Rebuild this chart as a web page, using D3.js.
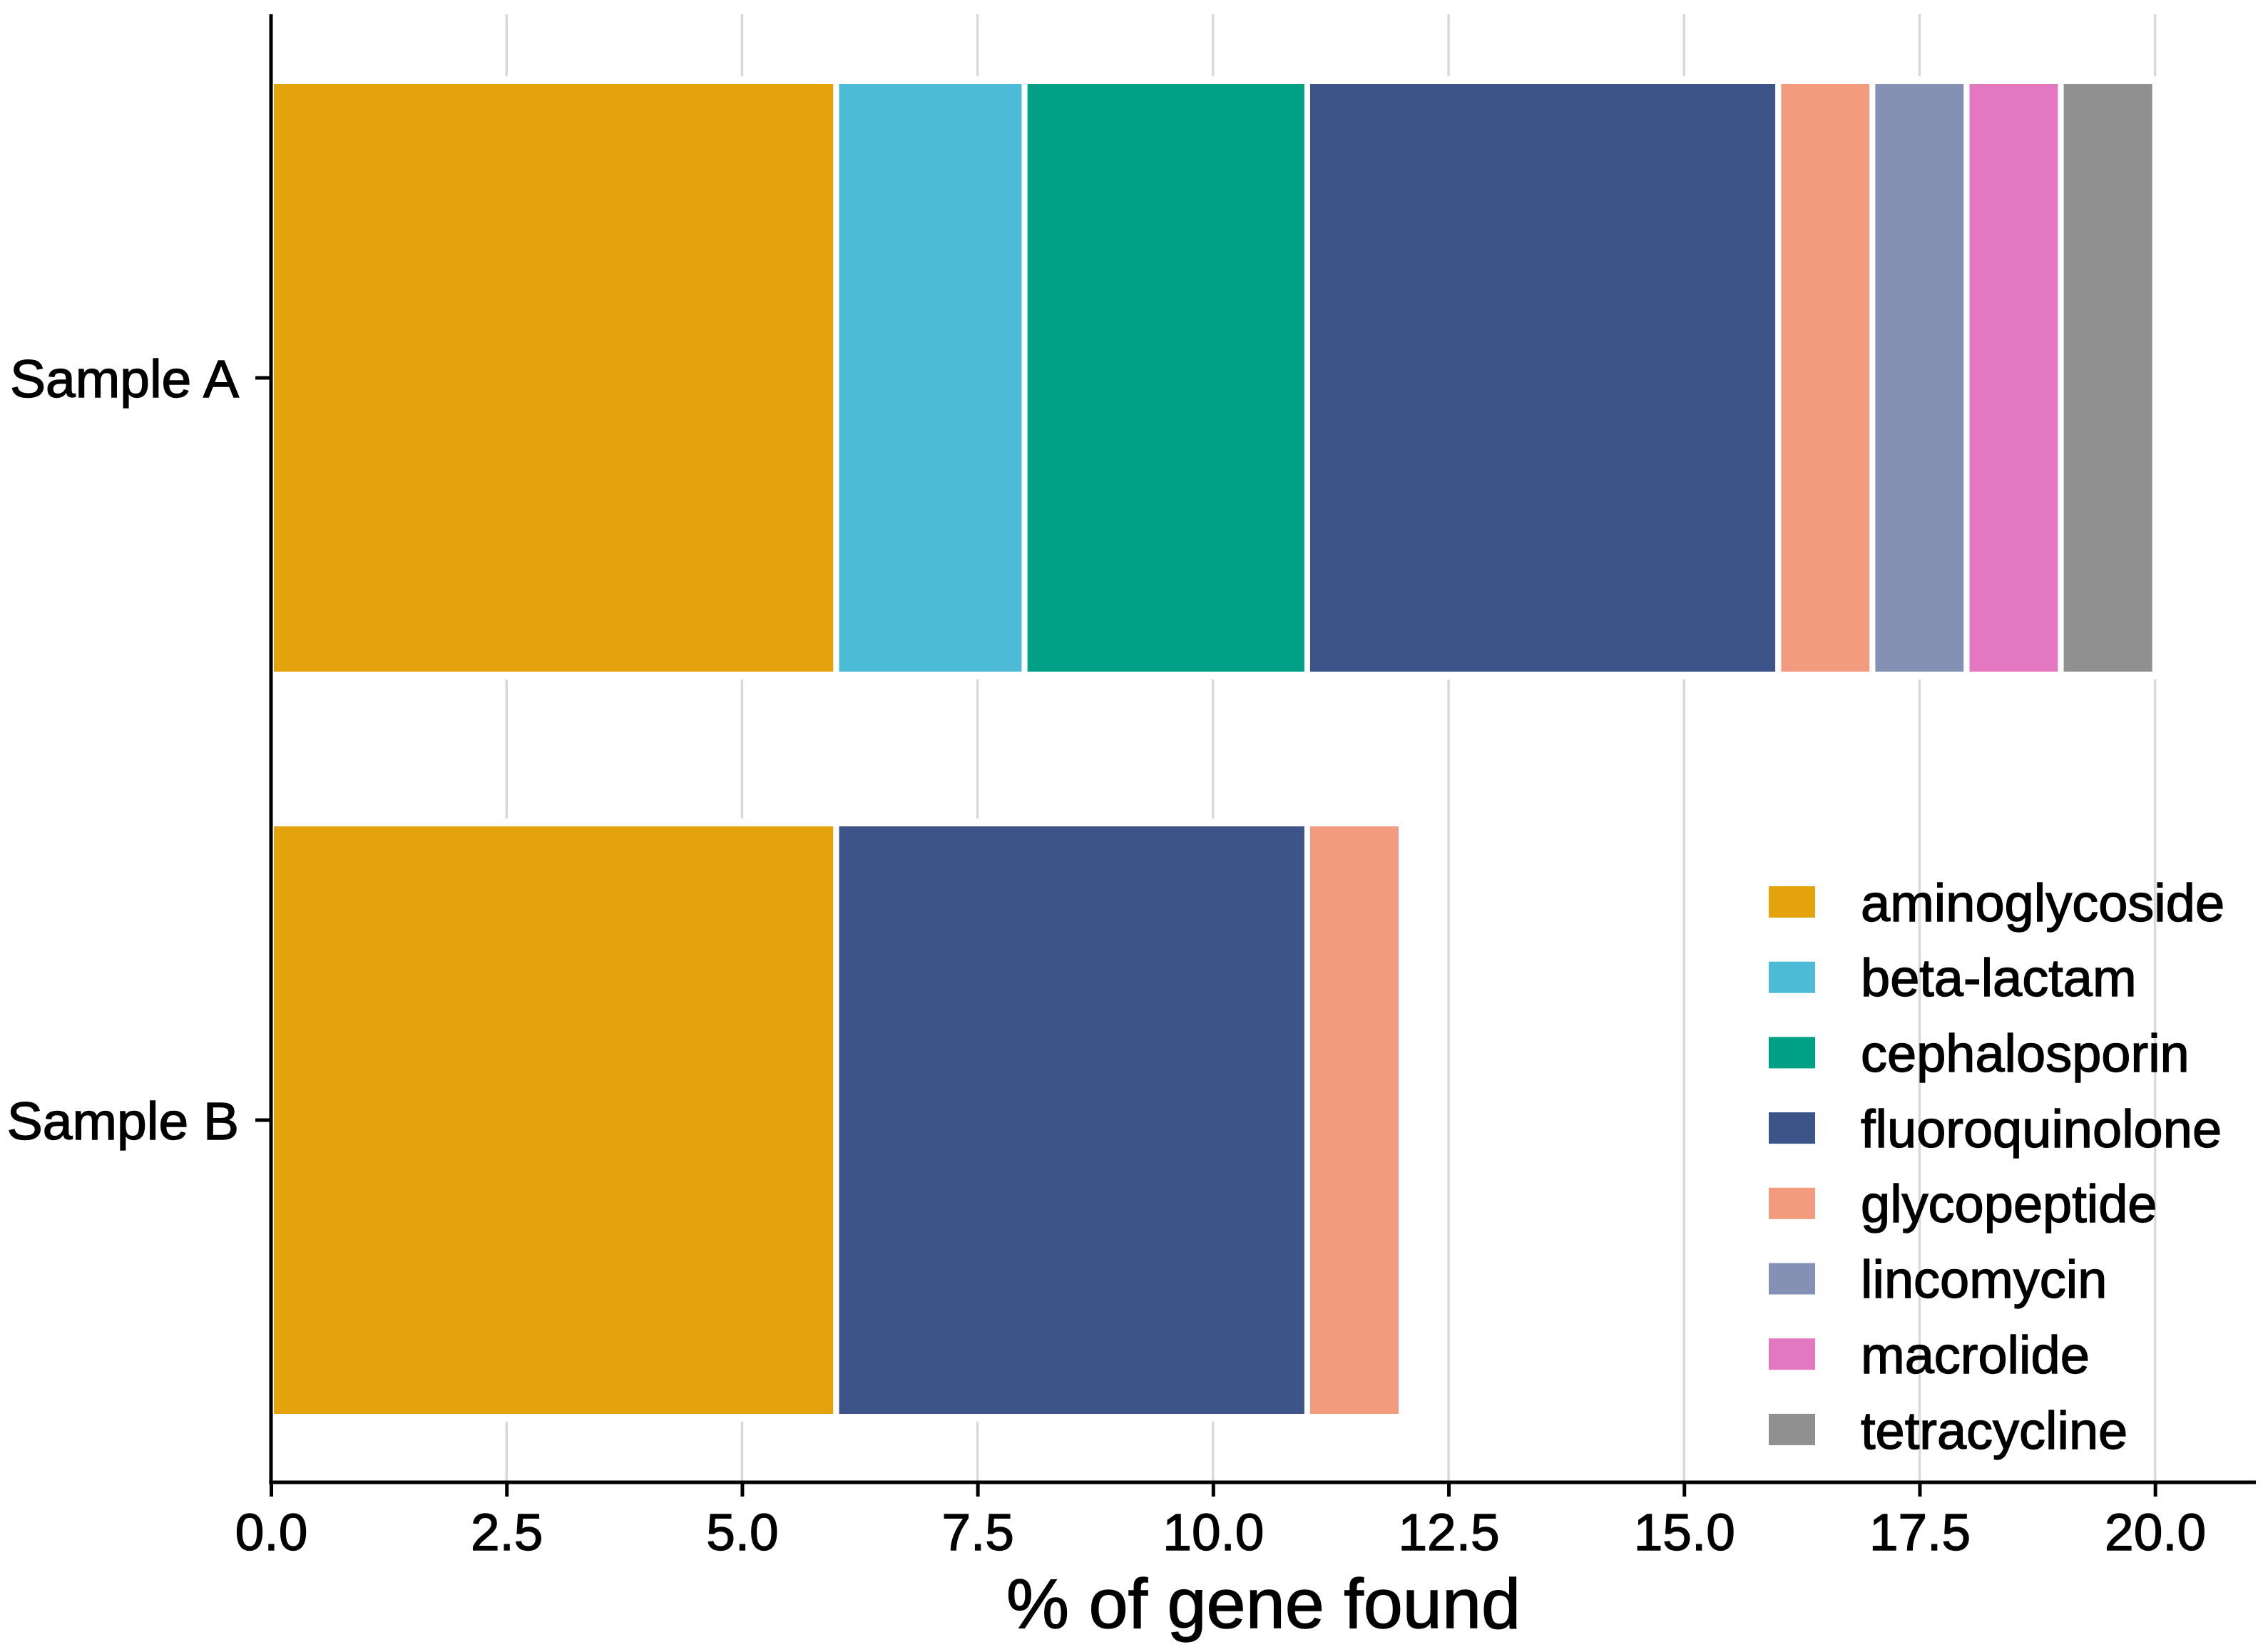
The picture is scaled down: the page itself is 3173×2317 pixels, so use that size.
<!DOCTYPE html>
<html>
<head>
<meta charset="utf-8">
<script src="https://cdn.jsdelivr.net/npm/d3@7"></script>
<style>
  html, body { margin: 0; padding: 0; background: #fff; }
  svg { display: block; }
  text { font-family: "Liberation Sans", Arial, Helvetica, sans-serif; fill: #000; stroke: #000; stroke-width: 1.4px; }
</style>
</head>
<body>
<svg id="chart" width="3173" height="2317"></svg>
<script>
// ---- data ----
const samples = ["Sample A", "Sample B"];
const classes = ["aminoglycoside", "beta-lactam", "cephalosporin", "fluoroquinolone",
                 "glycopeptide", "lincomycin", "macrolide", "tetracycline"];
const colors = ["#E4A20C", "#4DBAD6", "#00A087", "#3C5488",
                "#F39B7F", "#8491B4", "#E377C2", "#909090"];
const sampleA = [6, 2, 3, 5, 1, 1, 1, 1];
const sampleB = [6, 0, 0, 5, 1, 0, 0, 0];
const xTicks = [0, 2.5, 5, 7.5, 10, 12.5, 15, 17.5, 20];
const xTickLabels = ["0.0", "2.5", "5.0", "7.5", "10.0", "12.5", "15.0", "17.5", "20.0"];
const xTitle = "% of gene found";

// ---- layout ----
const mLeft = 380, mRight = 3163, mTop = 20, mBottom = 2079;

const svg = d3.select("#chart");

const x = d3.scaleLinear().domain([0, 21.07]).range([mLeft, mRight]);
const y = d3.scaleBand().domain(samples).range([114, 1987]).paddingInner(0.2008).paddingOuter(0);
const color = d3.scaleOrdinal().domain(classes).range(colors);

// gridlines
svg.append("g").selectAll("line")
  .data(xTicks.filter(d => d > 0))
  .join("line")
  .attr("x1", d => x(d)).attr("x2", d => x(d))
  .attr("y1", mTop).attr("y2", mBottom)
  .attr("stroke", "#D9D9D9").attr("stroke-width", 3.5);

// stacked data
const rows = samples.map((s, i) => {
  const vals = i === 0 ? sampleA : sampleB;
  const obj = { sample: s };
  classes.forEach((c, j) => obj[c] = vals[j]);
  return obj;
});
const stack = d3.stack().keys(classes)(rows);

// halos (white gap between bars and gridlines)
svg.append("g").selectAll("rect")
  .data(rows)
  .join("rect")
  .attr("x", x(0))
  .attr("y", d => y(d.sample) - 7)
  .attr("width", d => x(d3.sum(classes, c => d[c])) - x(0) + 4)
  .attr("height", y.bandwidth() + 14)
  .attr("fill", "#fff");

// bars
const segs = [];
stack.forEach(layer => {
  layer.forEach(p => {
    if (p[1] - p[0] > 0) segs.push({ key: layer.key, sample: p.data.sample, x0: p[0], x1: p[1] });
  });
});
svg.append("g").selectAll("rect")
  .data(segs)
  .join("rect")
  .attr("x", d => x(d.x0))
  .attr("y", d => y(d.sample))
  .attr("width", d => x(d.x1) - x(d.x0))
  .attr("height", y.bandwidth())
  .attr("fill", d => color(d.key))
  .attr("stroke", "#fff")
  .attr("stroke-width", 8);

// x axis
const xAxis = svg.append("g").attr("transform", `translate(0,${mBottom})`)
  .call(d3.axisBottom(x).tickValues(xTicks).tickFormat((d, i) => xTickLabels[i]).tickSize(20).tickSizeOuter(0));
xAxis.select(".domain").remove();
xAxis.selectAll(".tick line").attr("stroke", "#000").attr("stroke-width", 5);
xAxis.selectAll(".tick text").attr("font-size", 73).attr("dy", null).attr("y", 95)
  .style("font-family", '"Liberation Sans", Arial, sans-serif').attr("fill", "#000");

// y axis
const yAxis = svg.append("g").attr("transform", `translate(${mLeft},0)`)
  .call(d3.axisLeft(y).tickSize(22).tickSizeOuter(0));
yAxis.select(".domain").remove();
yAxis.selectAll(".tick line").attr("stroke", "#000").attr("stroke-width", 5);
yAxis.selectAll(".tick text").attr("font-size", 75).attr("x", -45).attr("dy", "0.36em")
  .style("font-family", '"Liberation Sans", Arial, sans-serif').attr("fill", "#000");

// axis lines
svg.append("line").attr("x1", mLeft).attr("x2", mLeft).attr("y1", mTop).attr("y2", mBottom + 2.5)
  .attr("stroke", "#000").attr("stroke-width", 5);
svg.append("line").attr("x1", mLeft - 2.5).attr("x2", mRight).attr("y1", mBottom).attr("y2", mBottom)
  .attr("stroke", "#000").attr("stroke-width", 5);

// x title
svg.append("text")
  .attr("x", (mLeft + mRight) / 2).attr("y", 2283)
  .attr("text-anchor", "middle").attr("font-size", 99)
  .text(xTitle);

// legend
const legend = svg.append("g");
const lg = legend.selectAll("g").data(classes).join("g")
  .attr("transform", (d, i) => `translate(2480, ${1265 + i * 105.7})`);
lg.append("rect").attr("x", 0).attr("y", -22).attr("width", 65).attr("height", 44)
  .attr("fill", d => color(d));
lg.append("text").attr("x", 129).attr("y", 0).attr("dy", "0.36em")
  .attr("font-size", 74).text(d => d);
</script>
</body>
</html>
